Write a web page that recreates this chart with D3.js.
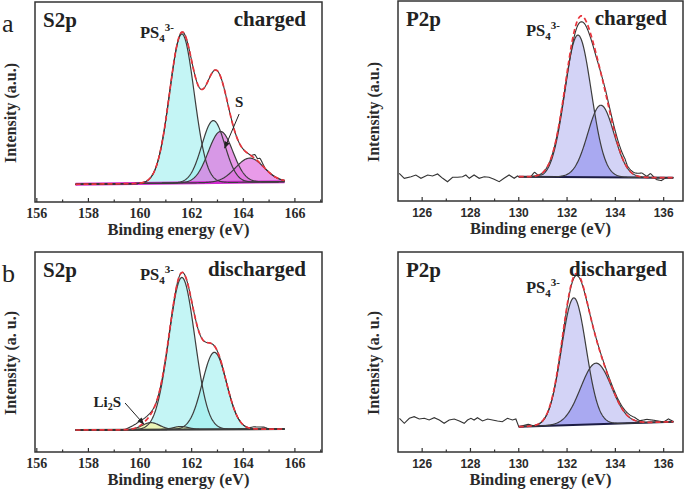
<!DOCTYPE html>
<html>
<head>
<meta charset="utf-8">
<script src="https://cdn.jsdelivr.net/npm/d3@7"></script>
<style>
  body { margin: 0; background: #fff; }
</style>
</head>
<body>
<svg id="chart" width="685" height="496"></svg>
<script>
// tick values
const s2pTicks = [156, 158, 160, 162, 164, 166];
const p2pTicks = [126, 128, 130, 132, 134, 136];

// fitted components: [centre eV, height above background, FWHM eV]
const s2pChargedPeaks = [[161.62, 149, 1.12], [162.84, 62, 1.05], [163.12, 51, 1.12], [164.25, 24, 1.3]];
const s2pChargedKinds = ["cyan", "cyan", "magenta", "magenta"];
const s2pChargedBg = [[157.5, 17.7], [165.6, 20.3]];
const s2pChargedResid = [[157.5, 0], [164.3, 0], [164.45, 4], [164.55, 2], [164.65, 5], [164.85, 0], [165.6, 0]];

const s2pDischargedPeaks = [[161.62, 152, 1.18], [162.88, 77, 1.1], [160.42, 7, 0.8], [161.58, 3, 0.7]];
const s2pDischargedKinds = ["cyan", "cyan", "yellow", "yellow"];
const s2pDischargedBg = [[157.5, 22], [165.6, 23]];
const s2pDischargedResid = [[157.5, 0], [159.4, 0], [159.7, 3], [160.0, 5], [160.3, 3], [160.6, 0], [164.2, 0], [164.4, 2], [164.8, 2], [165.0, 0], [165.6, 0]];

const p2pChargedPeaks = [[132.45, 142, 1.3], [133.4, 72, 1.28]];
const p2pChargedBg = [[130, 24.3], [136.4, 23.3]];
const p2pChargedResid = [[130, 0], [130.5, 0], [130.65, 4], [130.8, 0], [131.0, -2], [131.3, -3], [131.8, -4], [132.6, -6], [133.2, -3], [133.6, 3], [134.0, 4], [134.4, 5], [134.5, 2], [134.8, 2], [135.1, 4], [135.3, 1], [135.45, 4], [135.7, -2], [135.9, -3], [136.1, 0], [136.4, 0]];
const p2pChargedNoise = [[125.05, 27.7], [125.26, 22.7], [125.54, 24.3], [125.74, 26], [125.95, 22.7], [126.23, 26], [126.43, 25], [126.64, 27], [126.85, 22.7], [127.05, 19.3], [127.26, 23.7], [127.47, 23.7], [127.67, 24.3], [127.81, 26], [127.95, 22.7], [128.15, 26], [128.36, 22.7], [128.57, 24.3], [128.77, 23.7], [128.98, 21.7], [129.19, 19.3], [129.39, 22.7], [129.6, 26], [129.81, 22.7], [129.95, 25]];

const p2pDischargedPeaks = [[132.28, 127, 1.2], [133.2, 61, 1.5]];
const p2pDischargedBg = [[130, 25.3], [136.4, 30.3]];
const p2pDischargedResid = [[130, 0], [130.4, 2], [130.6, 0], [131.5, -1], [132.44, -2], [133, 0], [134.0, 2], [134.8, 3], [135.0, 1], [135.3, 3], [135.6, 2], [136.0, 0], [136.2, 3], [136.4, 0]];
const p2pDischargedNoise = [[125.06, 33.7], [125.26, 28.7], [125.47, 33.7], [125.67, 35.3], [125.88, 33], [126.09, 33.7], [126.29, 32], [126.5, 34.3], [126.71, 32], [126.91, 28.7], [127.12, 32], [127.33, 33], [127.54, 31], [127.74, 28.7], [127.88, 32], [128.02, 33.7], [128.15, 32], [128.29, 34.3], [128.5, 31], [128.71, 33], [128.91, 32], [129.12, 31], [129.32, 30.3], [129.53, 33.7], [129.74, 32], [129.88, 33]];

const serif = "'Liberation Serif', 'Times New Roman', serif";
const sans = "'Liberation Sans', Arial, sans-serif";

const fillColor = {cyan: "#9cefef", magenta: "#e070e0", yellow: "#eef5b0"};
const fillOpacity = {cyan: 0.6, magenta: 0.7, yellow: 0.9};

const panels = [
  {letter: "a", left: 35, top: 2, width: 287, height: 200, xDomain: [155.93, 167.05], ticks: s2pTicks, tickFont: serif, tickSize: 14,
   peaks: s2pChargedPeaks, kinds: s2pChargedKinds, bg: s2pChargedBg, resid: s2pChargedResid, noise: null, bgColor: "#d22ad2", bgWidth: 3,
   ytitle: "Intensity (a.u.)", xtitle: "Binding energy (eV)", element: "S2p", state: "charged", psAt: [160.0, 164],
   note: {text: "S", at: [163.84, 95], arrow: [[163.84, 88], [163.28, 54]]}},
  {letter: "b", left: 35, top: 252, width: 287, height: 200, xDomain: [155.93, 167.05], ticks: s2pTicks, tickFont: serif, tickSize: 14,
   peaks: s2pDischargedPeaks, kinds: s2pDischargedKinds, bg: s2pDischargedBg, resid: s2pDischargedResid, noise: null, bgColor: "#222", bgWidth: 2,
   ytitle: "Intensity (a. u.)", xtitle: "Binding energy (eV)", element: "S2p", state: "discharged", psAt: [160.0, 172],
   note: {text: "Li2S", at: [158.2, 45], arrow: [[159.42, 49], [160.14, 28]]}},
  {letter: null, left: 398, top: 1, width: 285, height: 200, xDomain: [125.0, 136.8], ticks: p2pTicks, tickFont: sans, tickSize: 12,
   peaks: p2pChargedPeaks, kinds: null, bg: p2pChargedBg, resid: p2pChargedResid, noise: p2pChargedNoise, bgColor: "#1c1c44", bgWidth: 2,
   ytitle: "Intensity (a.u.)", xtitle: "Binding energe (eV)", element: "P2p", state: "charged", psAt: [130.3, 165]},
  {letter: null, left: 398, top: 252, width: 285, height: 200, xDomain: [125.0, 136.8], ticks: p2pTicks, tickFont: sans, tickSize: 12,
   peaks: p2pDischargedPeaks, kinds: null, bg: p2pDischargedBg, resid: p2pDischargedResid, noise: p2pDischargedNoise, bgColor: "#1c1c44", bgWidth: 2,
   ytitle: "Intensity (a. u.)", xtitle: "Binding energy (eV)", element: "P2p", state: "discharged", psAt: [130.3, 159]}
];

const svg = d3.select("#chart");

svg.append("defs").append("marker")
  .attr("id", "arrow")
  .attr("viewBox", "0 0 10 10")
  .attr("refX", 9).attr("refY", 5)
  .attr("markerWidth", 7).attr("markerHeight", 7)
  .attr("orient", "auto")
  .append("path").attr("d", "M0,1 L10,5 L0,9 z").attr("fill", "#222");

function gauss(p, e) {
  const [c, h, w] = p;
  return h * Math.exp(-4 * Math.LN2 * (e - c) * (e - c) / (w * w));
}

function drawPanel(cfg) {
  const x = d3.scaleLinear().domain(cfg.xDomain).range([cfg.left, cfg.left + cfg.width]);
  const y = d3.scaleLinear().domain([0, cfg.height]).range([cfg.top + cfg.height, cfg.top]);
  const bgFn = d3.scaleLinear().domain(cfg.bg.map(d => d[0])).range(cfg.bg.map(d => d[1]));
  const residFn = d3.scaleLinear().domain(cfg.resid.map(d => d[0])).range(cfg.resid.map(d => d[1])).clamp(true);
  const e0 = cfg.bg[0][0], e1 = cfg.bg[cfg.bg.length - 1][0];
  const grid = d3.range(e0, e1 + 0.0001, 0.02);
  const envelope = e => bgFn(e) + d3.sum(cfg.peaks, p => gauss(p, e));

  const g = svg.append("g");
  const line = d3.line().x(d => x(d[0])).y(d => y(d[1]));

  // component fills
  if (cfg.kinds) {
    cfg.peaks.forEach((p, i) => {
      g.append("path")
        .datum(grid)
        .attr("d", d3.area().x(e => x(e)).y0(e => y(bgFn(e))).y1(e => y(bgFn(e) + gauss(p, e))))
        .attr("fill", fillColor[cfg.kinds[i]])
        .attr("fill-opacity", fillOpacity[cfg.kinds[i]]);
    });
  } else {
    cfg.peaks.forEach(p => {
      g.append("path")
        .datum(grid)
        .attr("d", d3.area().x(e => x(e)).y0(e => y(bgFn(e))).y1(e => y(bgFn(e) + gauss(p, e))))
        .attr("fill", "#d3d3f6");
    });
    g.append("path")
      .datum(grid)
      .attr("d", d3.area().x(e => x(e)).y0(e => y(bgFn(e)))
        .y1(e => y(bgFn(e) + Math.min(gauss(cfg.peaks[0], e), gauss(cfg.peaks[1], e)))))
      .attr("fill", "#a9a9f1");
  }

  // background line
  g.append("path")
    .datum(cfg.bg)
    .attr("d", line)
    .attr("stroke", cfg.bgColor)
    .attr("stroke-width", cfg.bgWidth)
    .attr("fill", "none");

  // component outlines
  cfg.peaks.forEach(p => {
    g.append("path")
      .datum(grid.map(e => [e, bgFn(e) + gauss(p, e)]))
      .attr("d", line)
      .attr("fill", "none")
      .attr("stroke", "#3d3d3d")
      .attr("stroke-width", 1.2);
  });

  // measured spectrum
  let measured = grid.map(e => [e, envelope(e) + residFn(e)]);
  if (cfg.noise) measured = cfg.noise.concat(measured);
  g.append("path")
    .datum(measured)
    .attr("d", line)
    .attr("fill", "none")
    .attr("stroke", "#333")
    .attr("stroke-width", 1.1);

  // fit envelope
  g.append("path")
    .datum(grid.map(e => [e, envelope(e)]))
    .attr("d", line)
    .attr("fill", "none")
    .attr("stroke", "#e8343c")
    .attr("stroke-width", 1.7)
    .attr("stroke-dasharray", "5,3");

  // frame
  g.append("rect")
    .attr("x", cfg.left).attr("y", cfg.top)
    .attr("width", cfg.width).attr("height", cfg.height)
    .attr("fill", "none")
    .attr("stroke", "#333")
    .attr("stroke-width", 1.5);

  // bottom axis, ticks inward
  const bottom = cfg.top + cfg.height;
  const minor = d3.range(cfg.ticks[0] - 1, cfg.ticks[cfg.ticks.length - 1] + 1.5, 1).filter(v => v > cfg.xDomain[0] && v < cfg.xDomain[1]);
  g.selectAll(null).data(minor).enter().append("line")
    .attr("x1", d => x(d)).attr("x2", d => x(d))
    .attr("y1", bottom).attr("y2", d => bottom - (cfg.ticks.includes(d) ? 4 : 2.5))
    .attr("stroke", "#333").attr("stroke-width", 1.2);
  g.selectAll(null).data(cfg.ticks).enter().append("text")
    .attr("x", d => x(d)).attr("y", bottom + 16)
    .attr("text-anchor", "middle")
    .attr("font-family", cfg.tickFont)
    .attr("font-weight", "bold")
    .attr("font-size", cfg.tickSize)
    .attr("fill", "#2a2a2a")
    .text(d => d);

  g.append("text")
    .attr("x", cfg.left + cfg.width / 2).attr("y", bottom + 33)
    .attr("text-anchor", "middle")
    .attr("font-family", serif).attr("font-weight", "bold").attr("font-size", 16.5)
    .attr("fill", "#2a2a2a")
    .text(cfg.xtitle);

  const yx = cfg.left < 100 ? 16 : 379;
  g.append("text")
    .attr("transform", `translate(${yx},${cfg.top + 111}) rotate(-90)`)
    .attr("text-anchor", "middle")
    .attr("font-family", serif).attr("font-weight", "bold").attr("font-size", 16)
    .attr("fill", "#2a2a2a")
    .text(cfg.ytitle);

  g.append("text")
    .attr("x", cfg.left + 8).attr("y", cfg.top + 25)
    .attr("font-family", serif).attr("font-weight", "bold").attr("font-size", 21)
    .attr("fill", "#222")
    .text(cfg.element);

  g.append("text")
    .attr("x", cfg.left + cfg.width - 16).attr("y", cfg.top + 24)
    .attr("text-anchor", "end")
    .attr("font-family", serif).attr("font-weight", "bold").attr("font-size", 21)
    .attr("fill", "#222")
    .text(cfg.state);

  // PS4 3- label
  const ps = g.append("text")
    .attr("x", x(cfg.psAt[0])).attr("y", y(cfg.psAt[1]))
    .attr("font-family", serif).attr("font-weight", "bold").attr("font-size", 16.5)
    .attr("fill", "#222");
  ps.append("tspan").text("PS");
  ps.append("tspan").attr("dy", 4).attr("font-size", 11).text("4");
  ps.append("tspan").attr("dy", -11).attr("font-size", 11).text("3-");

  if (cfg.note) {
    const n = g.append("text")
      .attr("x", x(cfg.note.at[0])).attr("y", y(cfg.note.at[1]))
      .attr("text-anchor", cfg.note.text === "S" ? "middle" : "start")
      .attr("font-family", serif).attr("font-weight", "bold").attr("font-size", 15)
      .attr("fill", "#222");
    if (cfg.note.text === "Li2S") {
      n.append("tspan").text("Li");
      n.append("tspan").attr("dy", 3).attr("font-size", 10).text("2");
      n.append("tspan").attr("dy", -3).text("S");
    } else {
      n.text(cfg.note.text);
    }
    const [a, b] = cfg.note.arrow;
    g.append("line")
      .attr("x1", x(a[0])).attr("y1", y(a[1]))
      .attr("x2", x(b[0])).attr("y2", y(b[1]))
      .attr("stroke", "#222").attr("stroke-width", 1)
      .attr("marker-end", "url(#arrow)");
  }

  if (cfg.letter) {
    svg.append("text")
      .attr("x", 2).attr("y", cfg.top + 30)
      .attr("font-family", serif).attr("font-size", 26)
      .attr("fill", "#222")
      .text(cfg.letter);
  }
}

panels.forEach(drawPanel);
</script>
</body>
</html>
